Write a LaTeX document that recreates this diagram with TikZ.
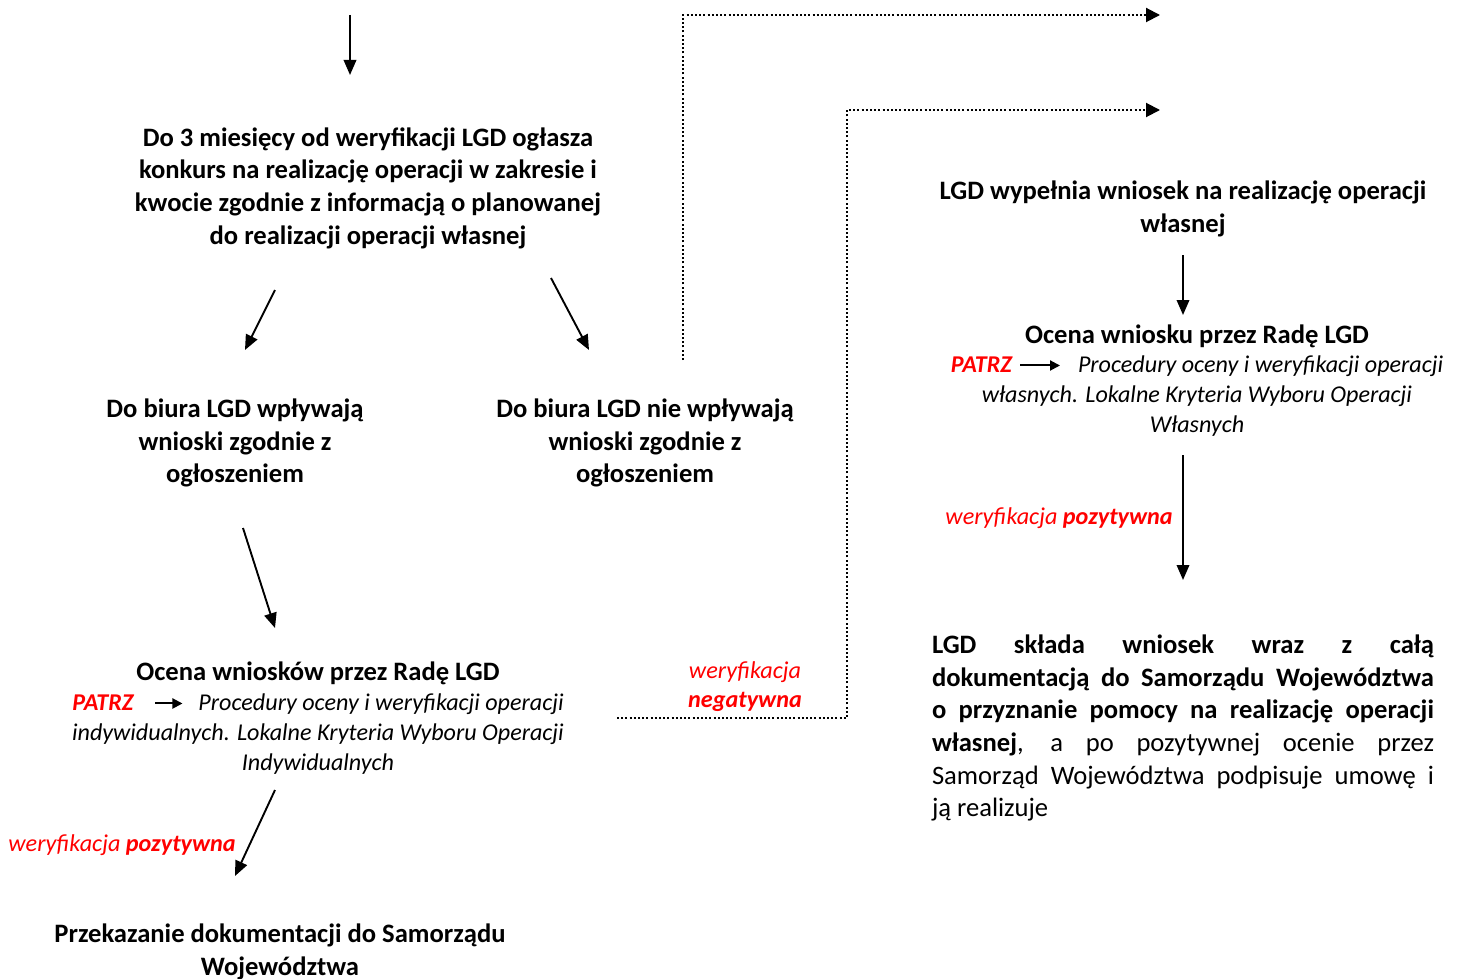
\documentclass[tikz,border=0pt]{standalone}
\usepackage{fontspec}
\setmainfont{Carlito}
\usetikzlibrary{arrows.meta}
\definecolor{lblred}{RGB}{255,0,0}
\begin{document}
\begin{tikzpicture}[x=1pt,y=-1pt,
  arr/.style={line width=1.9pt,-{Triangle[length=15pt,width=12.5pt]}},
  dotline/.style={line width=2pt,dash pattern=on 2pt off 2.2pt,-{Triangle[length=14pt,width=14pt]}},
  boldtxt/.style={inner sep=0pt,align=center,font=\fontsize{26.6}{32.6}\selectfont\bfseries},
  ittxt/.style={inner sep=0pt,align=center,font=\fontsize{24.1}{30}\selectfont\itshape},
  redlbl/.style={inner sep=0pt,text=lblred,font=\fontsize{24.2}{29}\selectfont\itshape},
  justtxt/.style={inner sep=0pt,text width=502pt,align=justify,font=\fontsize{26.6}{32.7}\selectfont}]
\useasboundingbox (0,0) rectangle (1461,979);
\newcommand{\patrzarrow}[1]{\tikz[baseline=-0.6ex]\draw[line width=2pt,-{Triangle[length=10pt,width=10pt]}] (0pt,0pt) -- (#1,0pt);}
\newcommand{\patrz}{{\color{lblred}\bfseries PATRZ}}

% nodes
\node[boldtxt] (b1) at (368,188) {Do 3 miesięcy od weryfikacji LGD ogłasza\\konkurs na realizację operacji w zakresie i\\kwocie zgodnie z informacją o planowanej\\do realizacji operacji własnej};
\node[boldtxt] (b2) at (235,443) {Do biura LGD wpływają\\wnioski zgodnie z\\ogłoszeniem};
\node[boldtxt] (b3) at (645,443) {Do biura LGD nie wpływają\\wnioski zgodnie z\\ogłoszeniem};
\node[boldtxt] (b4t) at (318,673) {Ocena wniosków przez Radę LGD};
\node[ittxt] (b4b) at (318,734) {\patrz\hspace{21pt}\patrzarrow{27pt}\hspace{15pt}Procedury oceny i weryfikacji operacji\\indywidualnych. Lokalne Kryteria Wyboru Operacji\\Indywidualnych};
\node[redlbl,align=center] (neg) at (745,687) {weryfikacja\\\bfseries negatywna};
\node[redlbl,anchor=east] (pos1) at (236,845) {weryfikacja \textbf{pozytywna}};
\node[boldtxt] (b5) at (280,952) {Przekazanie dokumentacji do Samorządu\\Województwa};

\node[boldtxt] (r1) at (1183,209) {LGD wypełnia wniosek na realizację operacji\\własnej};
\node[boldtxt] (r2t) at (1197,336) {Ocena wniosku przez Radę LGD};
\node[ittxt] (r2b) at (1197,396) {\patrz\hspace{7pt}\patrzarrow{40pt}\hspace{17pt}Procedury oceny i weryfikacji operacji\\własnych. Lokalne Kryteria Wyboru Operacji\\Własnych};
\node[redlbl,anchor=east] (pos2) at (1173,518) {weryfikacja \textbf{pozytywna}};
\node[justtxt] (r3) at (1183,728) {\textbf{LGD składa wniosek wraz z całą\linebreak dokumentacją do Samorządu Województwa\linebreak o przyznanie pomocy na realizację operacji\linebreak własnej}, a po pozytywnej ocenie przez\linebreak Samorząd Województwa podpisuje umowę i\linebreak ją realizuje};

% arrow end points
\coordinate (a0s) at (350,15);  \coordinate (a0e) at (350,75);
\coordinate (a1s) at (275,290); \coordinate (a1e) at (245,350);
\coordinate (a2s) at (551,278); \coordinate (a2e) at (589,350);
\coordinate (a3s) at (243,528); \coordinate (a3e) at (275,628);
\coordinate (a4s) at (275,790); \coordinate (a4e) at (235,876);
\coordinate (a5s) at (1183,255); \coordinate (a5e) at (1183,315);
\coordinate (a6s) at (1183,455); \coordinate (a6e) at (1183,580);
\coordinate (d1s) at (683,360); \coordinate (d1c) at (683,15); \coordinate (d1e) at (1160,15);
\coordinate (d2s) at (617,718); \coordinate (d2c) at (847,718); \coordinate (d2d) at (847,110); \coordinate (d2e) at (1160,110);

\draw[arr] (a0s) -- (a0e);
\draw[arr] (a1s) -- (a1e);
\draw[arr] (a2s) -- (a2e);
\draw[arr] (a3s) -- (a3e);
\draw[arr] (a4s) -- (a4e);
\draw[arr] (a5s) -- (a5e);
\draw[arr] (a6s) -- (a6e);
\draw[dotline] (d1s) -- (d1c) -- (d1e);
\draw[dotline] (d2s) -- (d2c) -- (d2d) -- (d2e);
\end{tikzpicture}
\end{document}
